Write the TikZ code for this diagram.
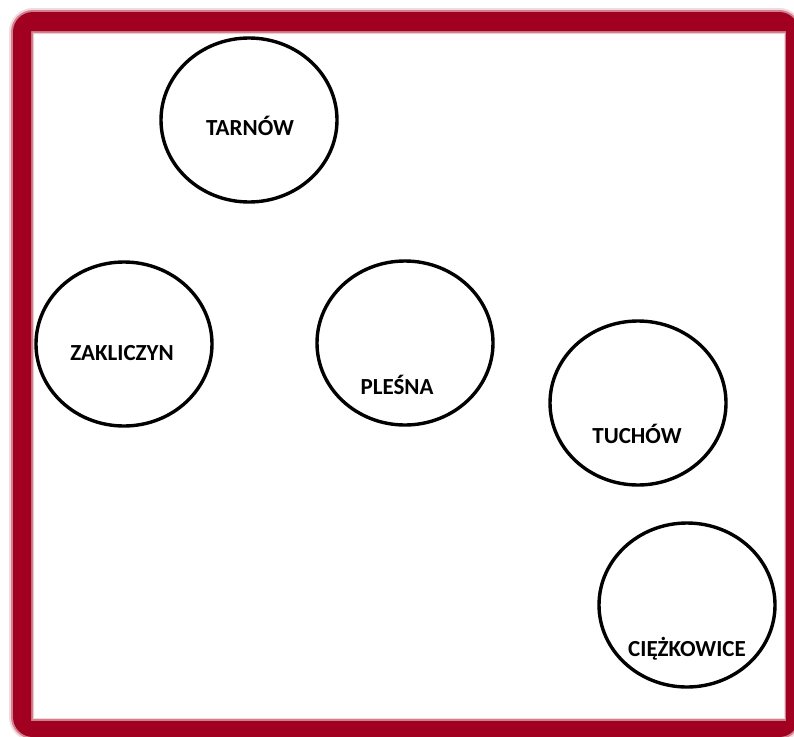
\documentclass[tikz,border=0pt]{standalone}
\usepackage{fontspec}
\setmainfont{Carlito}
\usetikzlibrary{shapes.geometric}
\definecolor{framered}{RGB}{162,0,32}
\begin{document}
\begin{tikzpicture}[x=1pt,y=-1pt,
  town/.style={draw=black,line width=3.4pt,ellipse,minimum width=176pt,minimum height=164pt},
  lbl/.style={font=\bfseries\fontsize{23}{26}\selectfont,inner sep=0pt}]
\useasboundingbox (0,0) rectangle (794,736);
\fill[white] (0,0) rectangle (794,736);
% blurred frame
\fill[framered!15,even odd rule,rounded corners=24pt] (9,8) rectangle (803,741) [sharp corners] (34,34) rectangle (784,718);
\fill[framered!50,even odd rule,rounded corners=22pt] (11,10) rectangle (801,739) [sharp corners] (33,33) rectangle (785,719);
\fill[framered,even odd rule,rounded corners=20pt] (13,12) rectangle (799,737) [sharp corners] (31,31) rectangle (786,721);
% towns
\node[town] (tarnow) at (249,120) {};
\node[town] (zakliczyn) at (124,344) {};
\node[town] (plesna) at (405,343) {};
\node[town] (tuchow) at (638,403) {};
\node[town] (ciezkowice) at (687,605) {};
\node[lbl] (tarnowL) at (250,126) {TARNÓW};
\node[lbl] (zakliczynL) at (122,353) {ZAKLICZYN};
\node[lbl] (plesnaL) at (397,385) {PLEŚNA};
\node[lbl] (tuchowL) at (637,434) {TUCHÓW};
\node[lbl] (ciezkowiceL) at (687,649) {CIĘŻKOWICE};
\end{tikzpicture}
\end{document}
